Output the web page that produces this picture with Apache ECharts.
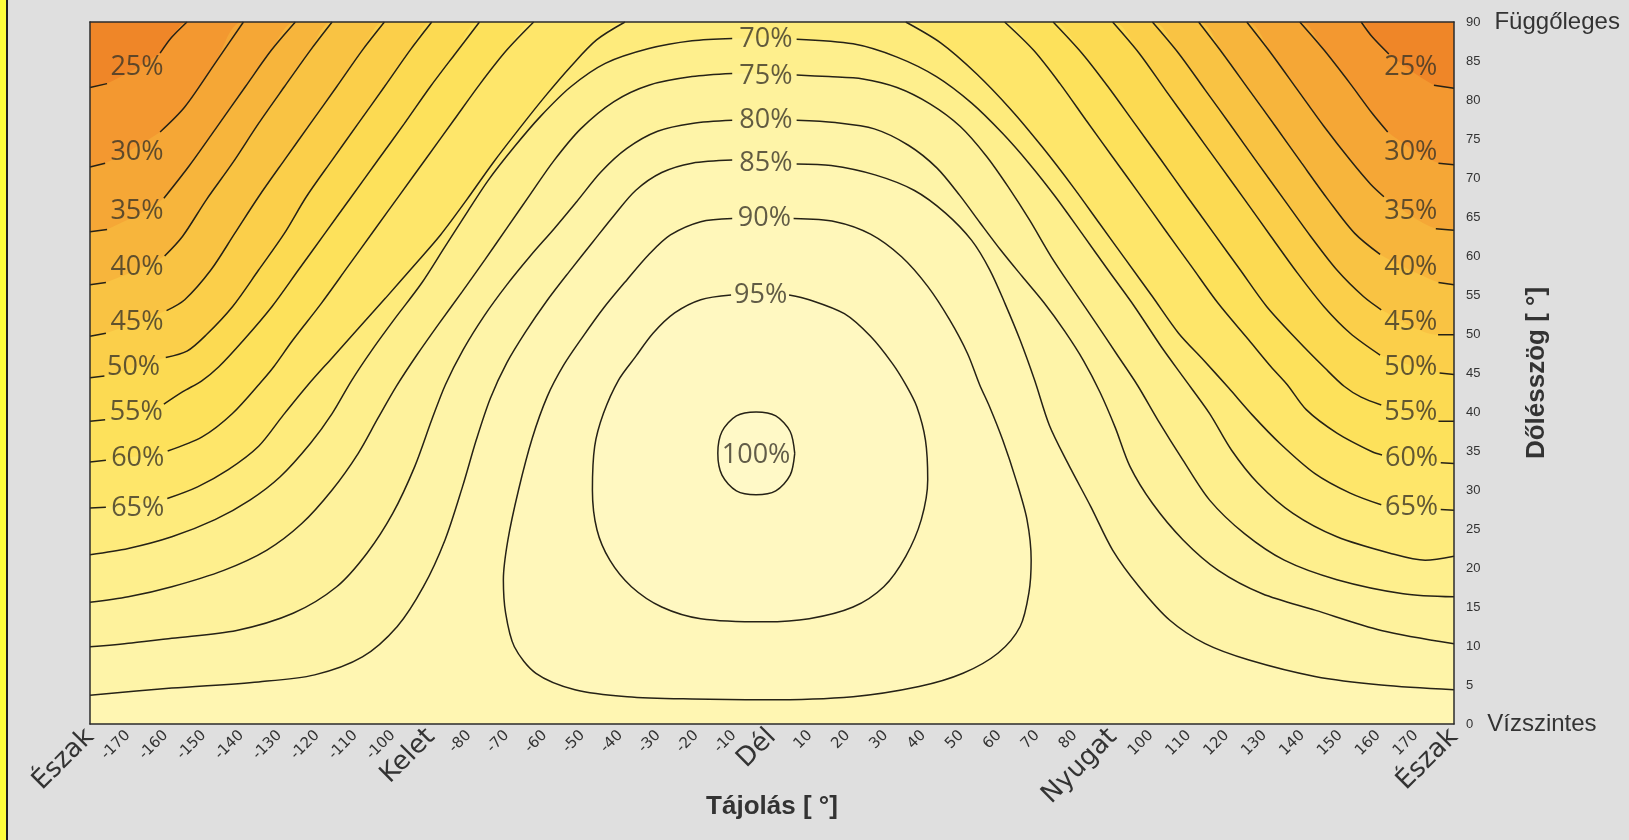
<!DOCTYPE html>
<html><head><meta charset="utf-8">
<script src="https://cdn.jsdelivr.net/npm/echarts@6/dist/echarts.min.js"></script>
<style>html,body{margin:0;padding:0;background:#dfdfdf;} #c{width:1629px;height:840px;}</style>
</head><body><div id="c"></div>
<script>
// ---- axis label data ----
const xDirAngles = [-180, -90, 0, 90, 180];
const xDirNames = ['Észak', 'Kelet', 'Dél', 'Nyugat', 'Észak'];
const yEndValues = [90, 0];
const yEndNames = ['Függőleges', 'Vízszintes'];

// ---- contour levels (%), each contour = list of segments of [azimuth°, tilt°] ----
const levels = [25, 30, 35, 40, 45, 50, 55, 60, 65, 70, 75, 80, 85, 90, 95, 100];

const c25 = [
  [[-180,81.6],[-175.5,82.1]],
  [[-161.5,86.0],[-158.5,88.0],[-154.4,90]],
  [[155.5,90],[158.4,88.1],[162.8,85.9]],
  [[174.7,81.9],[180,81.5]]
];
const c30 = [
  [[-180,71.4],[-176,71.9]],
  [[-161.5,75.9],[-155.0,79.1],[-147.0,84.7],[-139.5,90]],
  [[139.3,90],[145.7,86.4],[152.6,82.1],[158.4,78.3],[162.5,75.9]],
  [[175.9,71.9],[180,71.7]]
];
const c35 = [
  [[-180,63.1],[-175.5,63.4]],
  [[-160.5,67.4],[-153.9,71.5],[-147.0,76.2],[-139.0,81.7],[-132.1,86.4],[-125.8,90]],
  [[125.3,90],[131.7,86.0],[138.7,81.3],[145.7,76.6],[152.6,72.3],[158.0,69.2],[161.5,67.6]],
  [[175.2,63.5],[180,63.3]]
];
const c40 = [
  [[-180,56.3],[-175.8,56.6]],
  [[-160.3,60.0],[-155.6,62.5],[-149.3,67.2],[-142.4,71.9],[-135.5,77.0],[-128.7,81.7],[-121.8,86.4],[-116.1,90]],
  [[112.6,90],[118.9,86.0],[125.9,81.3],[132.9,76.6],[139.8,71.9],[146.8,67.2],[153.8,62.9],[160.5,60.2]],
  [[175.9,56.6],[180,56.3]]
];
const c45 = [
  [[-180,49.7],[-175.8,50.1]],
  [[-159.8,53.0],[-155.0,54.4],[-148.1,58.2],[-141.8,62.9],[-135.5,67.6],[-128.7,72.3],[-121.8,77.0],[-114.9,81.7],[-108.1,86.4],[-102.3,90]],
  [[100.4,90],[107.3,86.0],[114.3,81.3],[121.3,76.6],[128.2,71.9],[135.2,67.2],[142.2,62.5],[149.1,58.2],[156.1,54.8],[160.8,53.1]],
  [[175.8,49.9],[180,49.9]]
];
const c50 = [
  [[-180,44.4],[-176.2,44.6]],
  [[-160.0,47.0],[-154.4,47.8],[-149.3,49.9],[-142.4,53.5],[-135.5,58.2],[-128.7,62.9],[-122.9,67.6],[-116.1,72.3],[-109.2,77.0],[-102.3,81.7],[-95.5,86.4],[-89.8,90]],
  [[89.9,90],[96.9,86.0],[103.8,81.3],[110.8,76.6],[117.8,71.9],[124.8,67.2],[131.7,62.5],[138.7,57.8],[145.7,53.5],[152.6,50.1],[160.5,47.3]],
  [[176.2,45.0],[180,44.8]]
];
const c55 = [
  [[-180,38.8],[-176,39.0]],
  [[-160.5,41.0],[-155.5,42.6],[-150.5,44.0],[-146.0,45.8],[-139.5,49.2],[-132.0,53.5],[-125.0,58.2],[-118.0,62.9],[-111.0,67.6],[-104.0,72.3],[-97.0,77.0],[-90.2,81.7],[-83.5,86.0],[-77.2,90]],
  [[74.2,90],[81.8,86.0],[88.7,81.7],[95.7,77.0],[102.7,72.3],[109.6,67.6],[116.6,62.9],[123.6,58.2],[130.6,53.5],[138.7,49.2],[146.0,45.6],[151.0,43.3],[155.5,41.9],[160.8,40.9]],
  [[175.9,38.8],[180,38.8]]
];
const c60 = [
  [[-180,33.6],[-175.8,33.8]],
  [[-159.5,35.0],[-150.4,36.8],[-142.4,39.8],[-134.4,44.1],[-131.5,45.8],[-126.5,49.2],[-119.0,53.9],[-112.0,58.6],[-105.0,63.3],[-98.0,68.0],[-91.0,72.7],[-84.0,77.4],[-77.0,82.1],[-70.0,86.4],[-62.9,90]],
  [[61.4,90],[69.0,86.4],[76.0,82.1],[82.9,77.4],[89.9,72.7],[96.9,68.0],[103.8,63.3],[110.8,58.6],[117.8,53.9],[125.9,49.2],[131.7,45.8],[136.0,43.5],[141.0,40.3],[149.1,37.3],[158.4,34.9],[161.0,34.5]],
  [[176.5,33.5],[180,33.4]]
];
const c65 = [
  [[-180,27.7],[-175.8,27.8]],
  [[-159.6,28.9],[-151.6,30.4],[-143.5,32.6],[-135.5,35.6],[-129.0,39.6],[-122.6,43.4],[-116.0,47.0],[-109.2,50.7],[-102.0,54.6],[-94.8,58.6],[-87.5,62.7],[-80.6,67.2],[-73.7,71.9],[-66.9,76.2],[-60.0,80.4],[-53.1,84.3],[-46.3,87.7],[-38.8,90]],
  [[35.3,90],[44.6,87.3],[53.9,83.4],[63.2,78.7],[71.3,74.0],[79.4,68.9],[86.4,64.2],[93.4,59.5],[100.4,54.8],[107.3,50.1],[114.0,46.6],[120.5,43.1],[126.8,39.6],[134.0,36.0],[143.3,32.1],[152.6,29.6],[160.8,28.1]],
  [[176.5,27.5],[180,27.4]]
];
const c70 = [
  [[-180,21.7],[-169.9,22.5],[-158.4,24.0],[-147.0,26.2],[-137.8,28.7],[-129.8,31.7],[-121.8,36.0],[-116.1,39.8],[-111.0,44.0],[-105.5,48.0],[-99.5,52.0],[-92.5,56.5],[-86.3,61.2],[-80.6,65.5],[-74.9,69.7],[-68.0,74.0],[-61.1,77.9],[-53.1,81.7],[-44.0,84.7],[-32.5,86.6],[-21.1,87.6],[-10.5,87.9]],
  [[6.5,87.8],[21.4,87.2],[33.0,85.5],[43.4,83.0],[52.7,79.6],[60.9,75.7],[67.8,71.9],[74.8,67.6],[81.8,62.9],[88.7,58.2],[95.7,53.5],[102.7,48.4],[108.5,44.5],[115.5,39.8],[121.3,35.1],[128.2,30.9],[137.5,27.0],[149.1,24.0],[163.1,21.9],[172.4,21.0],[180,21.5]]
];
const c75 = [
  [[-180,15.6],[-169.9,16.3],[-158.4,17.6],[-144.7,19.7],[-133.3,22.3],[-124.1,25.7],[-116.1,30.0],[-109.2,34.7],[-104.0,39.2],[-99.0,43.4],[-93.6,47.4],[-87.8,51.4],[-81.8,55.4],[-75.8,59.5],[-69.8,63.7],[-63.8,67.9],[-57.6,72.2],[-50.5,76.3],[-41.7,79.8],[-32.5,81.9],[-21.1,83.0],[-10.5,83.4]],
  [[6.5,83.2],[15.0,83.0],[24.0,82.7],[33.0,81.6],[41.7,79.5],[49.7,76.6],[56.6,72.8],[62.3,68.9],[68.0,64.6],[73.7,59.9],[79.6,55.6],[85.5,51.4],[91.0,47.4],[96.5,43.4],[101.8,39.0],[108.5,33.8],[115.5,28.7],[124.7,24.4],[135.2,21.0],[149.1,18.5],[166.6,16.7],[180,16.3]]
];
const c80 = [
  [[-180,9.9],[-169,10.4],[-158.4,11.0],[-141.3,12.0],[-126.4,14.2],[-114.9,17.6],[-106.9,21.9],[-100.1,27.0],[-94.3,33.0],[-89.8,39.0],[-86.2,43.5],[-81.5,48.0],[-76.0,52.3],[-70.0,56.3],[-63.8,60.0],[-57.5,63.5],[-51.5,67.0],[-45.1,70.8],[-38.3,73.8],[-30.2,76.0],[-21.1,77.0],[-10.5,77.4]],
  [[6.5,77.4],[16.7,77.1],[27.0,76.3],[36.0,74.2],[43.5,71.3],[49.5,67.8],[55.0,64.2],[60.3,60.8],[66.0,57.4],[71.8,54.0],[77.2,50.4],[82.2,46.6],[86.6,42.5],[90.6,38.0],[94.5,33.0],[100.4,28.3],[108.5,23.6],[117.8,19.7],[129.4,16.7],[143.3,14.6],[160.8,12.0],[180,10.3]]
];
const c85 = [
  [[-180,3.7],[-158.4,4.6],[-135.5,5.4],[-120.7,6.3],[-108.1,8.6],[-98.9,12.5],[-92.0,17.6],[-86.3,23.6],[-81.7,30.4],[-78.0,36.5],[-74.3,41.8],[-70.0,46.3],[-65.0,50.3],[-59.5,54.2],[-53.5,58.0],[-47.3,61.8],[-41.7,65.2],[-36.0,68.4],[-29.1,70.7],[-21.1,71.9],[-10.5,72.3]],
  [[6.5,71.8],[15.6,71.6],[27.2,70.4],[37.6,68.4],[45.8,65.5],[52.7,62.0],[57.5,58.2],[61.5,53.9],[65.5,49.2],[69.3,44.1],[73.2,38.3],[78.0,33.5],[84.1,27.9],[89.9,22.3],[96.9,17.6],[105.0,13.3],[114.3,10.3],[125.9,8.2],[143.3,6.1],[160.8,5.0],[180,4.4]]
];
// closed contours (gap at the label on top)
const c90 = [
  [[5.7,64.8],[16.7,64.4],[26.0,62.8],[34.2,59.9],[41.1,56.1],[46.9,51.8],[51.6,47.5],[54.8,43.5],[57.4,40.7],[60.9,36.4],[64.4,31.3],[67.3,26.2],[68.4,21.0],[67.8,16.8],[65.5,12.5],[59.7,9.1],[50.4,6.5],[38.8,4.8],[21.4,3.5],[-1.9,3.1],[-21.1,3.2],[-38.2,3.5],[-52.0,4.4],[-62.3,6.5],[-68.0,9.9],[-70.3,14.2],[-70.9,18.5],[-69.7,23.6],[-66.9,30.0],[-63.3,36.6],[-59.3,42.0],[-55.0,46.0],[-50.0,49.6],[-44.5,53.3],[-38.2,57.0],[-32.5,60.2],[-26.8,62.7],[-18.8,64.4],[-10.5,64.8]]
];
const c95 = [
  [[4.5,55.0],[9.8,54.4],[19.1,52.6],[26.0,49.7],[31.8,46.2],[35.3,43.5],[38.2,40.7],[40.5,36.4],[41.1,31.3],[39.4,26.2],[35.3,21.5],[29.5,17.6],[21.4,15.0],[9.8,13.5],[-1.9,13.1],[-18.8,13.5],[-29.1,15.0],[-37.1,17.6],[-42.8,21.0],[-46.2,24.9],[-47.4,30.0],[-46.8,35.6],[-44.5,39.8],[-40.5,44.1],[-36.0,47.1],[-31.4,50.1],[-25.7,52.7],[-18.8,54.4],[-10.8,55.0]]
];
const c100 = [
  [[6.0,34.7],[4.8,37.5],[1.0,39.5],[-4.2,40.0],[-9.4,39.5],[-13.2,37.5],[-14.3,34.7],[-13.2,31.9],[-9.4,29.9],[-4.2,29.4],[1.0,29.9],[4.8,31.9],[6.0,34.7]]
];

// ---- contour labels ----
const labelTexts = ['25%','30%','35%','40%','45%','50%','55%','60%','65%',
                    '25%','30%','35%','40%','45%','50%','55%','60%','65%',
                    '70%','75%','80%','85%','90%','95%','100%'];
const labelXs = [-167.6,-167.6,-167.6,-167.6,-167.6,-168.5,-167.8,-167.4,-167.4,
                 168.6,168.6,168.6,168.6,168.6,168.6,168.6,168.8,168.8,
                 -1.6,-1.6,-1.6,-1.6,-2.0,-3.0,-4.2];
const labelYs = [84.2,73.3,65.7,58.6,51.5,45.7,40.0,34.0,27.6,
                 84.2,73.3,65.7,58.6,51.5,45.7,40.0,34.0,27.8,
                 87.8,83.1,77.4,71.9,64.8,54.9,34.4];

// ---- band fill colours ----
const baseColor = '#EF8628';
const bandColors = ['#F39830','#F5A736','#F7B53C','#F9C343','#FBCF4A','#FCDA52','#FDE15B','#FEE66A',
                    '#FEEB7C','#FEEF8D','#FEF29C','#FEF4A8','#FFF6B2','#FFF7BA','#FFF8C1','#FFF9C7'];

const openContours = [c25,c30,c35,c40,c45,c50,c55,c60,c65,c70,c75,c80,c85];
const closedContours = [c90,c95,c100];
const lineColor = '#262216';
const SM = 0.3;

const series = [];
openContours.forEach((segs, i) => {
  series.push({
    type: 'line', data: [].concat(...segs), smooth: SM, symbol: 'none', silent: true,
    lineStyle: { width: 0, opacity: 0 }, areaStyle: { color: bandColors[i], opacity: 1 }, z: 2
  });
});
closedContours.forEach((segs, k) => {
  const pts = [].concat(...segs);
  series.push({
    type: 'custom', silent: true, z: 2, clip: true,
    data: [pts[0]],
    renderItem: (params, api) => ({
      type: 'polygon',
      shape: { points: pts.map(p => api.coord(p)), smooth: 0.35 },
      style: { fill: bandColors[openContours.length + k] }
    })
  });
});
[...openContours, ...closedContours].forEach(segs => {
  segs.forEach(seg => {
    series.push({
      type: 'line', data: seg, smooth: SM, symbol: 'none', silent: true, z: 3,
      lineStyle: { color: lineColor, width: 1.5 }
    });
  });
});
series.push({
  type: 'scatter', symbolSize: 0, silent: true, z: 4,
  data: labelTexts.map((t, i) => [labelXs[i], labelYs[i], t]),
  label: {
    show: true, position: 'inside', formatter: p => p.data[2],
    fontFamily: 'Open Sans', fontSize: 27, color: '#3a3428'
  }
});

const chart = echarts.init(document.getElementById('c'), null, { renderer: 'canvas' });
chart.setOption({
  animation: false,
  backgroundColor: '#dfdfdf',
  graphic: [
    { type: 'rect', left: 0, top: 0, shape: { width: 6, height: 840 }, style: { fill: '#ffff3c' }, z: 100 },
    { type: 'rect', left: 6, top: 0, shape: { width: 2, height: 840 }, style: { fill: '#222' }, z: 100 }
  ],
  grid: { left: 90, right: 175, top: 22, bottom: 116, show: true, backgroundColor: baseColor, borderWidth: 0,
          containLabel: false, outerBoundsMode: 'none' },
  xAxis: [{
    type: 'value', min: -180, max: 180, interval: 10, z: 10,
    axisLine: { show: true, onZero: false, lineStyle: { color: '#2b2b2b', width: 1.5 } },
    axisTick: { show: false }, splitLine: { show: false },
    axisLabel: {
      rotate: 45, margin: 9, showMinLabel: true, showMaxLabel: true, color: '#333',
      formatter: v => { const i = xDirAngles.indexOf(v); return i >= 0 ? '{d|' + xDirNames[i] + '}' : '{n|' + v + '}'; },
      rich: {
        n: { fontFamily: 'DejaVu Sans', fontSize: 15, color: '#333' },
        d: { fontFamily: 'DejaVu Sans', fontSize: 26, color: '#333' }
      }
    },
    name: 'Tájolás [ °]', nameLocation: 'middle', nameGap: 70, nameMoveOverlap: false,
    nameTextStyle: { fontFamily: 'Liberation Sans', fontWeight: 'bold', fontSize: 26, color: '#333' }
  }, {
    type: 'value', min: -180, max: 180, position: 'top', z: 10,
    axisLine: { show: true, onZero: false, lineStyle: { color: '#2b2b2b', width: 1.5 } },
    axisTick: { show: false }, splitLine: { show: false }, axisLabel: { show: false }
  }],
  yAxis: [{
    type: 'value', min: 0, max: 90, interval: 5, position: 'right', z: 10,
    axisLine: { show: true, onZero: false, lineStyle: { color: '#2b2b2b', width: 1.5 } },
    axisTick: { show: false }, splitLine: { show: false },
    axisLabel: {
      margin: 12, color: '#333',
      formatter: v => { const i = yEndValues.indexOf(v); return i >= 0 ? '{n|' + v + '}{b|' + yEndNames[i] + '}' : '{n|' + v + '}'; },
      rich: {
        n: { fontFamily: 'Liberation Sans Narrow, Liberation Sans', fontSize: 13, color: '#333' },
        b: { fontFamily: 'Liberation Sans', fontSize: 24, color: '#333', padding: [0, 0, 0, 14] }
      }
    },
    name: 'Dőlésszög [ °]', nameLocation: 'middle', nameGap: 70, nameRotate: 90, nameMoveOverlap: false,
    nameTextStyle: { fontFamily: 'Liberation Sans', fontWeight: 'bold', fontSize: 26, color: '#333' }
  }, {
    type: 'value', min: 0, max: 90, position: 'left', z: 10,
    axisLine: { show: true, onZero: false, lineStyle: { color: '#2b2b2b', width: 1.5 } },
    axisTick: { show: false }, splitLine: { show: false }, axisLabel: { show: false }
  }],
  series: series
});
</script>
</body></html>
